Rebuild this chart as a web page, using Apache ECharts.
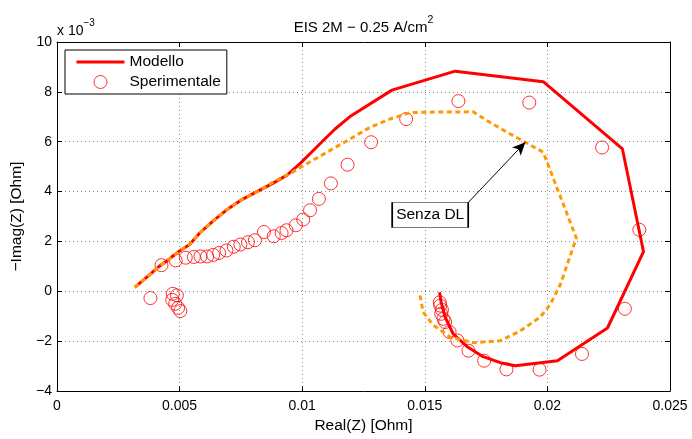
<!DOCTYPE html>
<html>
<head>
<meta charset="utf-8">
<script src="https://cdn.jsdelivr.net/npm/echarts@6/dist/echarts.min.js"></script>
<style>
  html, body { margin: 0; padding: 0; background: #fff; }
  #chart { width: 692px; height: 439px; }
</style>
</head>
<body>
<div id="chart"></div>
<script>
// Nyquist plot: Real(Z) [Ohm] vs -Imag(Z) [x 10^-3 Ohm]

// Fitted equivalent-circuit model
const modelReal = [0.00317, 0.00370, 0.00419, 0.00460, 0.00500, 0.00541, 0.00582, 0.00635, 0.00692, 0.00758,
  0.00827, 0.00880, 0.00938, 0.00991, 0.01044, 0.01085, 0.01134, 0.01195, 0.01366, 0.01624,
  0.01983, 0.02306, 0.02392, 0.02245, 0.02041, 0.01869, 0.01808, 0.01738, 0.01673, 0.01616,
  0.01583, 0.01567, 0.01560];
const modelImag = [0.16, 0.60, 1.02, 1.31, 1.62, 1.88, 2.34, 2.81, 3.27, 3.70,
  4.06, 4.33, 4.66, 5.12, 5.64, 6.04, 6.51, 7.01, 8.07, 8.83,
  8.41, 5.71, 1.59, -1.47, -2.78, -2.98, -2.86, -2.62, -2.22, -1.71,
  -1.03, -0.44, -0.04];

// Model without the double-layer element
const noDlReal = [0.00317, 0.00370, 0.00419, 0.00460, 0.00500, 0.00541, 0.00582, 0.00635, 0.00692, 0.00758,
  0.00827, 0.00880, 0.00962, 0.01019, 0.01101, 0.01195, 0.01277, 0.01358, 0.01440, 0.01550,
  0.01697, 0.01755, 0.01836, 0.01910, 0.01983, 0.02118, 0.02053, 0.02012, 0.01971, 0.01889,
  0.01808, 0.01697, 0.01603, 0.01534, 0.01493, 0.01479];
const noDlImag = [0.16, 0.60, 1.02, 1.31, 1.62, 1.88, 2.34, 2.81, 3.27, 3.70,
  4.06, 4.37, 4.79, 5.12, 5.58, 6.11, 6.58, 6.91, 7.17, 7.19,
  7.20, 6.84, 6.38, 5.98, 5.58, 2.14, 0.28, -0.52, -1.03, -1.59,
  -1.98, -2.06, -1.83, -1.35, -0.83, -0.08];

// Measured impedance
const expReal = [0.00381, 0.00426, 0.00484, 0.00525, 0.00558, 0.00585, 0.00612, 0.00637, 0.00661, 0.00691,
  0.00721, 0.00748, 0.00779, 0.00807, 0.00844, 0.00884, 0.00916, 0.00936, 0.00974, 0.01004,
  0.01032, 0.01068, 0.01117, 0.01185, 0.01281, 0.01424, 0.01637, 0.01926, 0.02223, 0.02375,
  0.02316, 0.02141, 0.01968, 0.01833, 0.01742, 0.01678, 0.01633, 0.01601, 0.01583, 0.01576,
  0.01567, 0.01570, 0.01563, 0.01561,
  0.00472, 0.00489, 0.00470, 0.00482, 0.00494, 0.00503];
const expImag = [-0.27, 1.05, 1.24, 1.35, 1.38, 1.40, 1.40, 1.46, 1.54, 1.64,
  1.79, 1.88, 1.97, 2.05, 2.38, 2.21, 2.34, 2.45, 2.65, 2.88,
  3.25, 3.71, 4.33, 5.08, 5.98, 6.91, 7.63, 7.57, 5.77, 2.47,
  -0.70, -2.51, -3.14, -3.13, -2.78, -2.38, -1.97, -1.63, -1.23, -1.10,
  -0.90, -0.74, -0.57, -0.44,
  -0.10, -0.16, -0.34, -0.50, -0.66, -0.79];

// Axis ticks
const xTicks = [0, 0.005, 0.01, 0.015, 0.02, 0.025];
const yTicks = [-4, -2, 0, 2, 4, 6, 8, 10];

// Annotation: arrow from the label box to the curve without DL
const noteText = 'Senza DL';
const noteBox = [0.01522, 3.06];
const noteArrowFrom = [0.01674, 3.53];
const noteArrowTo = [0.01910, 5.98];

const zip = (a, b) => a.map((v, i) => [v, b[i]]);
const FONT = '"Liberation Sans", Arial, Helvetica, sans-serif';
const BIG = 15.5;
const minusSign = s => String(s).replace('-', '\u2212');

const chart = echarts.init(document.getElementById('chart'), null, { renderer: 'canvas' });

const gridDots = { show: true, lineStyle: { color: '#8a8a8a', width: 1, type: [1, 3] } };
const tickIn = { show: true, inside: true, length: 5, lineStyle: { color: '#000', width: 1 } };
const frameLine = { show: true, onZero: false, lineStyle: { color: '#000', width: 1 } };
const supRich = {
  n: { fontSize: 14, fontFamily: FONT, fill: '#000', verticalAlign: 'bottom', lineHeight: 20 },
  s: { fontSize: 10, fontFamily: FONT, fill: '#000', verticalAlign: 'top', lineHeight: 12 }
};

chart.setOption({
  backgroundColor: '#fff',
  animation: false,
  grid: { left: 57, right: 22, top: 42, bottom: 44, containLabel: false },
  xAxis: [{
    type: 'value', min: xTicks[0], max: xTicks[xTicks.length - 1], interval: 0.005,
    axisLine: frameLine, axisTick: tickIn, splitLine: gridDots,
    axisLabel: { color: '#000', fontSize: 14, fontFamily: FONT, margin: 8,
      formatter: v => String(+v.toFixed(3)) },
    name: 'Real(Z) [Ohm]', nameLocation: 'middle', nameGap: 25,
    nameTextStyle: { color: '#000', fontSize: BIG, fontFamily: FONT }
  }, {
    type: 'value', position: 'top', min: xTicks[0], max: xTicks[xTicks.length - 1], interval: 0.005,
    axisLine: frameLine, axisTick: tickIn, splitLine: { show: false }, axisLabel: { show: false }
  }],
  yAxis: [{
    type: 'value', min: yTicks[0], max: yTicks[yTicks.length - 1], interval: 2,
    axisLine: frameLine, axisTick: tickIn, splitLine: gridDots,
    axisLabel: { color: '#000', fontSize: 14, fontFamily: FONT, margin: 5, formatter: minusSign },
    name: '\u2212Imag(Z) [Ohm]', nameLocation: 'middle', nameGap: 30,
    nameTextStyle: { color: '#000', fontSize: BIG, fontFamily: FONT }
  }, {
    type: 'value', position: 'right', min: yTicks[0], max: yTicks[yTicks.length - 1], interval: 2,
    axisLine: frameLine, axisTick: tickIn, splitLine: { show: false }, axisLabel: { show: false }
  }],
  legend: {
    data: [
      { name: 'Modello', itemStyle: { opacity: 0, borderWidth: 0 }, lineStyle: { width: 3, color: '#ff0000' } },
      { name: 'Sperimentale', itemStyle: { color: 'rgba(255,255,255,0)', borderColor: '#ff0000', borderWidth: 1 } }
    ],
    orient: 'vertical', left: 65, top: 50,
    itemWidth: 48, itemHeight: 13, itemGap: 4,
    padding: [4, 6, 4, 10],
    borderColor: '#000', borderWidth: 1, borderRadius: 0, backgroundColor: '#fff',
    textStyle: { color: '#000', fontSize: BIG, fontFamily: FONT },
    selectedMode: false
  },
  graphic: [{
    type: 'text', x: 363.5, y: 25, z: 10,
    style: {
      text: '{n|EIS 2M \u2212 0.25 A/cm}{s|2}', align: 'center', verticalAlign: 'middle',
      rich: {
        n: Object.assign({}, supRich.n, { fontSize: 15 }),
        s: Object.assign({}, supRich.s, { fontSize: 10.5 })
      }
    }
  }, {
    type: 'text', x: 57, y: 28, z: 10,
    style: { text: '{n|x 10}{s|\u22123}', align: 'left', verticalAlign: 'middle', rich: supRich }
  }],
  series: [{
    name: 'Modello', type: 'line', data: zip(modelReal, modelImag),
    showSymbol: false, symbol: 'none', smooth: false,
    itemStyle: { color: '#ff0000' },
    lineStyle: { color: '#ff0000', width: 3, join: 'round' }, z: 2
  }, {
    name: 'Sperimentale', type: 'scatter', data: zip(expReal, expImag),
    symbol: 'circle', symbolSize: 13,
    itemStyle: { color: 'rgba(255,255,255,0)', borderColor: '#ff0000', borderWidth: 1 }, z: 3
  }, {
    name: 'Senza DL', type: 'line', data: zip(noDlReal, noDlImag),
    showSymbol: false, symbol: 'none', smooth: false,
    itemStyle: { color: '#ff9900' },
    lineStyle: { color: '#ff9900', width: 3, type: [5, 3.5] }, z: 4,
    markLine: {
      silent: true, animation: false,
      symbol: ['none', 'arrow'], symbolSize: [9, 13],
      lineStyle: { color: '#000', width: 1, type: 'solid' },
      label: { show: false },
      data: [[{ coord: noteArrowFrom }, { coord: noteArrowTo }]]
    },
    markPoint: {
      silent: true, animation: false,
      symbol: 'rect', symbolSize: [76, 25],
      itemStyle: { color: '#fff', borderColor: '#000', borderWidth: 1 },
      label: { show: true, position: 'inside', formatter: noteText, color: '#000', fontSize: BIG, fontFamily: FONT },
      data: [{ coord: noteBox }]
    }
  }]
});
</script>
</body>
</html>
